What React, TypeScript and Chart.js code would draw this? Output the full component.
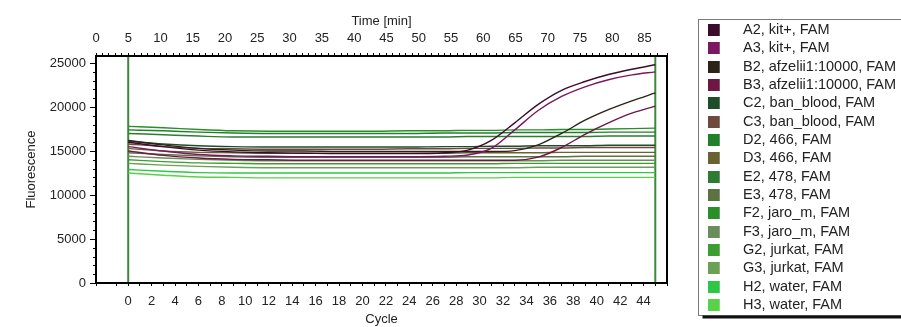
import React, { useEffect, useRef } from 'react';
import { Chart, registerables } from 'chart.js';

Chart.register(...registerables);

const FONT = "'Liberation Sans', Arial, Helvetica, sans-serif";
const TEXT = '#222222';

// ---- data ----
const cycles = [0, 3, 6, 9, 12, 15, 18, 21, 24, 27, 29, 31, 33, 35, 37, 39, 41, 43, 45];

const seriesLabels = [
  'A2, kit+, FAM',
  'A3, kit+, FAM',
  'B2, afzelii1:10000, FAM',
  'B3, afzelii1:10000, FAM',
  'C2, ban_blood, FAM',
  'C3, ban_blood, FAM',
  'D2, 466, FAM',
  'D3, 466, FAM',
  'E2, 478, FAM',
  'E3, 478, FAM',
  'F2, jaro_m, FAM',
  'F3, jaro_m, FAM',
  'G2, jurkat, FAM',
  'G3, jurkat, FAM',
  'H2, water, FAM',
  'H3, water, FAM',
];

const seriesColors = [
  '#3b0c2c', '#7b1660', '#2b2218', '#6e1745',
  '#1f4d2a', '#6d4a3c', '#21802b', '#6b6233',
  '#2e7c34', '#5c7242', '#2a8e2a', '#6b8d5c',
  '#3c9e31', '#6ca055', '#2ec646', '#58d248',
];

const A2 = [16000, 15500, 15100, 14900, 14800, 14750, 14700, 14700, 14700, 14800, 15100, 16200, 18200, 20300, 21900, 22900, 23700, 24300, 24800];
const A3 = [15500, 15000, 14600, 14450, 14400, 14350, 14350, 14350, 14350, 14400, 14550, 15300, 17400, 19600, 21200, 22300, 23100, 23650, 24000];
const B2 = [16200, 15700, 15300, 15100, 15000, 15000, 14950, 14950, 14950, 14950, 14950, 14950, 15050, 15700, 17000, 18500, 19700, 20700, 21600];
const B3 = [15000, 14500, 14200, 14050, 14000, 13950, 13950, 13950, 13950, 13950, 13950, 13950, 13950, 14300, 15400, 16900, 18200, 19300, 20100];
const C2 = [16100, 15800, 15600, 15500, 15450, 15450, 15450, 15450, 15450, 15500, 15500, 15550, 15550, 15600, 15600, 15600, 15650, 15650, 15650];
const C3 = [15800, 15500, 15300, 15250, 15200, 15200, 15200, 15200, 15250, 15250, 15300, 15300, 15300, 15350, 15350, 15400, 15400, 15400, 15400];
const D2 = [17400, 17300, 17150, 17050, 17000, 17000, 17000, 17000, 17000, 17050, 17050, 17050, 17100, 17100, 17100, 17100, 17150, 17150, 17150];
const D3 = [15300, 15000, 14850, 14800, 14750, 14750, 14750, 14750, 14750, 14750, 14800, 14800, 14800, 14800, 14850, 14850, 14850, 14850, 14850];
const E2 = [17000, 16850, 16700, 16600, 16600, 16600, 16600, 16600, 16600, 16600, 16650, 16650, 16650, 16650, 16650, 16650, 16700, 16700, 16700];
const E3 = [14800, 14600, 14450, 14350, 14300, 14300, 14300, 14300, 14300, 14300, 14350, 14350, 14350, 14350, 14350, 14400, 14400, 14400, 14400];
const F2 = [17800, 17650, 17450, 17300, 17250, 17250, 17250, 17250, 17300, 17300, 17350, 17350, 17400, 17400, 17450, 17450, 17500, 17550, 17600];
const F3 = [14400, 14200, 14050, 13950, 13900, 13900, 13900, 13900, 13900, 13900, 13900, 13900, 13900, 13900, 13950, 13950, 13950, 13950, 13950];
const G2 = [14000, 13800, 13650, 13600, 13550, 13550, 13550, 13550, 13550, 13550, 13550, 13550, 13600, 13600, 13600, 13600, 13600, 13600, 13600];
const G3 = [13600, 13400, 13250, 13150, 13100, 13100, 13100, 13100, 13100, 13100, 13100, 13100, 13100, 13150, 13150, 13150, 13150, 13150, 13150];
const H2 = [12900, 12700, 12550, 12500, 12500, 12500, 12500, 12500, 12500, 12500, 12550, 12550, 12550, 12550, 12550, 12550, 12550, 12550, 12550];
const H3 = [12500, 12250, 12050, 12000, 11950, 11950, 11950, 11950, 11950, 11950, 11950, 11950, 12000, 12000, 12000, 12000, 12000, 12000, 12000];

const seriesValues = [A2, A3, B2, B3, C2, C3, D2, D3, E2, E3, F2, F3, G2, G3, H2, H3];

// tick labels
const yTickValues = [0, 5000, 10000, 15000, 20000, 25000];
const yTickLabels = ['0', '5000', '10000', '15000', '20000', '25000'];
const Y_MINOR_STEP = 1000;

// axis ranges / ticks
const X_MIN = -2.75;
const X_MAX = 46;
const Y_MAX = 25800;
const MIN_PER_CYCLE = 1.815;
const markerCycles = [0, 45];
const cycleTickMax = 44;
const timeTickMax = 85;

// layout constants
const W = 901;
const H = 327;
const PLOT_LEFT = 96;
const PLOT_TOP = 56;
const PLOT_BOTTOM_SPACE = 44;
const PLOT_RIGHT = 667;
const LEGEND_LEFT = 703.9;
const LEGEND_TOP = 18.92;

const framePlugin = {
  id: 'frameDecor',
  afterLayout(chart: any) {
    const lg = chart.legend;
    if (!lg) return;
    const w = lg.width;
    const h = lg.height;
    lg.left = LEGEND_LEFT;
    lg.right = LEGEND_LEFT + w;
    lg.top = LEGEND_TOP;
    lg.bottom = LEGEND_TOP + h;
  },
  beforeDatasetsDraw(chart: any) {
    const { ctx, chartArea: a, scales } = chart;
    const x = scales.x;
    ctx.save();
    ctx.strokeStyle = '#3a8a3a';
    ctx.lineWidth = 2;
    markerCycles.forEach((c) => {
      const px = x.getPixelForValue(c);
      ctx.beginPath();
      ctx.moveTo(px, a.top);
      ctx.lineTo(px, a.bottom);
      ctx.stroke();
    });
    ctx.restore();
  },
  afterDraw(chart: any) {
    const { ctx, chartArea: a, scales } = chart;
    ctx.save();
    // minor ticks on the fluorescence axis
    const y = scales.y;
    ctx.strokeStyle = '#000';
    ctx.lineWidth = 1;
    ctx.beginPath();
    for (let v = y.min; v <= y.max; v += Y_MINOR_STEP) {
      const py = Math.round(y.getPixelForValue(v)) + 0.5;
      ctx.moveTo(a.left - 3, py);
      ctx.lineTo(a.left, py);
    }
    ctx.stroke();
    // plot frame
    ctx.strokeStyle = '#000';
    ctx.lineWidth = 2;
    ctx.strokeRect(a.left, a.top, a.right - a.left, a.bottom - a.top);
    // legend frame
    const lg = chart.legend;
    const hb = lg && lg.legendHitBoxes;
    if (hb && hb.length) {
      const L = Math.round(lg.left) - 5.5;
      const T = Math.round(hb[0].top) - 3.5;
      const last = hb[hb.length - 1];
      const B = Math.round(last.top + last.height) + 3.5;
      ctx.strokeStyle = '#7a7a7a';
      ctx.lineWidth = 1;
      ctx.strokeRect(L, T, chart.width + 10 - L, B - T);
      ctx.fillStyle = '#111';
      ctx.fillRect(L + 4, B, chart.width - L, 3);
    }
    ctx.restore();
  },
};

export default function App() {
  const ref = useRef<HTMLCanvasElement>(null);

  useEffect(() => {
    const canvas = ref.current;
    if (!canvas) return;

    const swatches = seriesColors.map((c) => {
      const s = document.createElement('canvas');
      s.width = 28;
      s.height = 12;
      const g = s.getContext('2d');
      if (g) {
        g.fillStyle = c;
        g.fillRect(0, 0, 12, 12);
      }
      return s;
    });

    const datasets = seriesLabels.map((label, i) => ({
      label,
      data: cycles.map((c, j) => ({ x: c, y: seriesValues[i][j] })),
      borderColor: seriesColors[i],
      backgroundColor: seriesColors[i],
      borderWidth: 1.4,
      pointRadius: 0,
      pointHoverRadius: 0,
      fill: false,
      cubicInterpolationMode: 'monotone' as const,
      xAxisID: 'x',
      yAxisID: 'y',
    }));

    const tickFont = { family: FONT, size: 13 };
    const titleFont = { family: FONT, size: 13 };

    const chart = new Chart(canvas, {
      type: 'line',
      data: { datasets },
      options: {
        animation: false,
        responsive: false,
        devicePixelRatio: 1,
        layout: { padding: 0 },
        events: [],
        scales: {
          x: {
            type: 'linear',
            position: 'bottom',
            min: X_MIN,
            max: X_MAX,
            grid: { drawOnChartArea: false, drawTicks: true, tickLength: 3, tickColor: '#000' },
            border: { display: false },
            ticks: {
              stepSize: 1,
              autoSkip: false,
              maxRotation: 0,
              minRotation: 0,
              padding: 8,
              font: tickFont,
              color: TEXT,
              callback: (v: any) => {
                const n = Number(v);
                return Number.isInteger(n) && n % 2 === 0 && n >= 0 && n <= cycleTickMax ? String(n) : '';
              },
            },
            title: { display: true, text: 'Cycle', padding: 0, font: titleFont, color: TEXT },
            afterFit: (s: any) => {
              s.height = PLOT_BOTTOM_SPACE;
            },
          },
          x2: {
            type: 'linear',
            position: 'top',
            min: 0,
            max: (X_MAX - X_MIN) * MIN_PER_CYCLE,
            grid: { drawOnChartArea: false, drawTicks: true, tickLength: 3, tickColor: '#000' },
            border: { display: false },
            ticks: {
              stepSize: 1,
              autoSkip: false,
              maxRotation: 0,
              minRotation: 0,
              padding: 7,
              font: tickFont,
              color: TEXT,
              callback: (v: any) => {
                const n = Number(v);
                return Number.isInteger(n) && n % 5 === 0 && n <= timeTickMax ? String(n) : '';
              },
            },
            title: { display: true, text: 'Time [min]', padding: { top: 14, bottom: 0 }, font: titleFont, color: TEXT },
            afterFit: (s: any) => {
              s.height = PLOT_TOP;
            },
          },
          y: {
            type: 'linear',
            position: 'left',
            min: 0,
            max: Y_MAX,
            grid: { drawOnChartArea: false, drawTicks: true, tickLength: 6, tickColor: '#000' },
            border: { display: false },
            afterBuildTicks: (s: any) => {
              s.ticks = yTickValues.map((v) => ({ value: v }));
            },
            ticks: {
              autoSkip: false,
              padding: 4,
              font: tickFont,
              color: TEXT,
              callback: (_v: any, i: number) => yTickLabels[i],
            },
            title: { display: true, text: 'Fluorescence', padding: { top: 24, bottom: 0 }, font: titleFont, color: TEXT },
            afterFit: (s: any) => {
              s.width = PLOT_LEFT;
            },
          },
          yR: {
            type: 'linear',
            position: 'right',
            display: true,
            grid: { display: false },
            border: { display: false },
            ticks: { display: false },
            afterFit: (s: any) => {
              const lg = s.chart.legend;
              s.width = s.chart.width - (lg ? lg.width : 0) - PLOT_RIGHT;
            },
          },
        },
        plugins: {
          tooltip: { enabled: false },
          legend: {
            display: true,
            position: 'right',
            align: 'start',
            maxWidth: 400,
            labels: {
              usePointStyle: true,
              pointStyleWidth: 28,
              padding: 3.83,
              font: { family: FONT, size: 14.5 },
              color: TEXT,
              generateLabels: (ch: any) =>
                (Chart.defaults.plugins.legend.labels as any)
                  .generateLabels(ch)
                  .map((it: any) => ({ ...it, pointStyle: swatches[it.datasetIndex] })),
            },
          },
        },
      } as any,
      plugins: [framePlugin],
    });

    return () => {
      chart.destroy();
    };
  }, []);

  return (
    <div style={{ position: 'fixed', left: 0, top: 0, width: W, height: H, background: '#fff', overflow: 'hidden' }}>
      <canvas ref={ref} width={W} height={H} style={{ display: 'block' }} />
    </div>
  );
}
